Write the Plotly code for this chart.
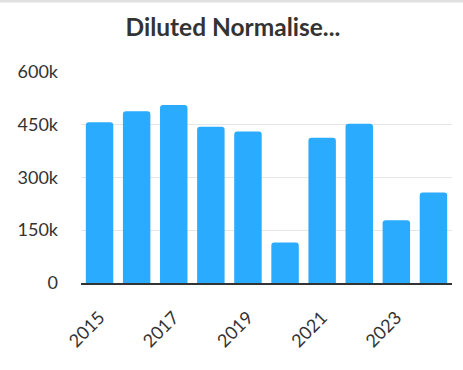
import plotly.graph_objects as go

years = ["2015", "2016", "2017", "2018", "2019", "2020", "2021", "2022", "2023", "2024"]
values = [456000, 487000, 505000, 443000, 430000, 115000, 412000, 452000, 178000, 257000]
x_tick_labels = ["2015", "2017", "2019", "2021", "2023"]
y_tick_vals = [0, 150000, 300000, 450000, 600000]
y_tick_text = ["0", "150k", "300k", "450k", "600k"]
title_text = "Diluted Normalise..."

fig = go.Figure(go.Bar(
    x=years, y=values,
    marker=dict(color="#2aabfd", cornerradius=3, line=dict(width=0)),
    hoverinfo="x+y",
))

fig.update_layout(
    width=463, height=370,
    margin=dict(l=81, r=11, t=71, b=87),
    paper_bgcolor="white", plot_bgcolor="white",
    bargap=0.26,
    showlegend=False,
    title=dict(text="<b>" + title_text + "</b>", x=0.503, xanchor="center", y=0.927, yanchor="middle",
               font=dict(family="Lato", size=24.5, color="#333333")),
    font=dict(family="Lato", color="#333333"),
)
fig.update_xaxes(
    type="category", tickmode="array", tickvals=x_tick_labels, ticktext=x_tick_labels,
    tickangle=-45, tickfont=dict(family="Lato", size=18, color="#333333"),
    showline=True, linecolor="#333333", linewidth=2, showgrid=False, ticks="",
    ticklabelstandoff=15,
)
fig.update_yaxes(
    range=[0, 601500], tickmode="array", tickvals=y_tick_vals, ticktext=y_tick_text,
    tickfont=dict(family="Lato", size=18, color="#333333"),
    showgrid=True, gridcolor="#e6e6e6", gridwidth=1, zeroline=False, showline=False,
    ticks="", ticklabelstandoff=22,
)
fig.add_shape(type="line", xref="paper", yref="paper", x0=-0.3, x1=1.1, y0=1.33, y1=1.33,
              line=dict(color="#e0e0e0", width=3))

fig.write_html("out.html", config={"displayModeBar": False},
               post_script="document.body.style.margin='0';")
